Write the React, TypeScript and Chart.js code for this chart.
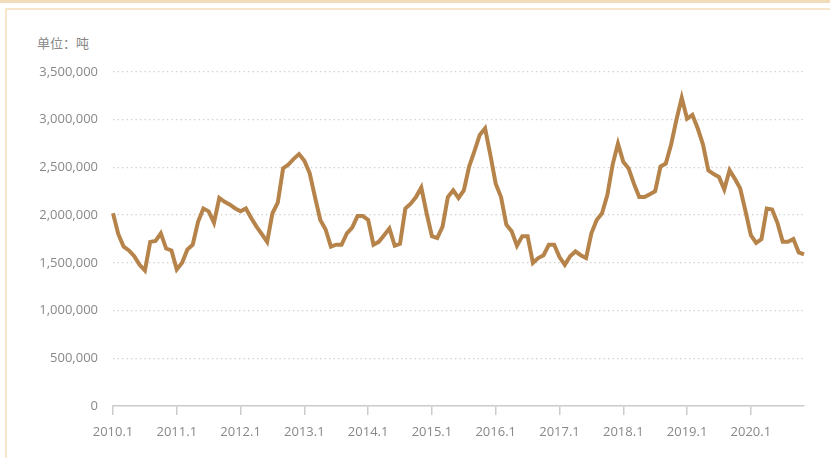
import React, { useEffect, useRef } from "react";
import { Chart, registerables } from "chart.js";

Chart.register(...registerables);

// Monthly volume, tons (2010.1 – 2020.11)
const v2010 = [2020000, 1800000, 1670000, 1630000, 1570000, 1480000, 1420000, 1720000, 1730000, 1810000, 1650000, 1630000];
const v2011 = [1430000, 1500000, 1640000, 1690000, 1930000, 2070000, 2040000, 1920000, 2180000, 2140000, 2110000, 2070000];
const v2012 = [2040000, 2070000, 1970000, 1880000, 1800000, 1720000, 2020000, 2130000, 2490000, 2530000, 2590000, 2640000];
const v2013 = [2570000, 2440000, 2190000, 1950000, 1850000, 1670000, 1690000, 1690000, 1810000, 1870000, 1990000, 1990000];
const v2014 = [1950000, 1690000, 1720000, 1790000, 1860000, 1680000, 1700000, 2070000, 2120000, 2190000, 2290000, 2020000];
const v2015 = [1780000, 1760000, 1880000, 2190000, 2260000, 2180000, 2260000, 2510000, 2670000, 2840000, 2910000, 2630000];
const v2016 = [2330000, 2190000, 1900000, 1830000, 1680000, 1780000, 1780000, 1500000, 1550000, 1580000, 1690000, 1690000];
const v2017 = [1560000, 1480000, 1570000, 1620000, 1580000, 1550000, 1810000, 1950000, 2020000, 2210000, 2530000, 2750000];
const v2018 = [2560000, 2490000, 2330000, 2190000, 2190000, 2220000, 2250000, 2510000, 2540000, 2740000, 3000000, 3230000];
const v2019 = [3010000, 3050000, 2910000, 2740000, 2470000, 2430000, 2400000, 2270000, 2470000, 2380000, 2280000, 2040000];
const v2020 = [1790000, 1710000, 1750000, 2070000, 2060000, 1920000, 1720000, 1720000, 1750000, 1610000, 1590000];

const years = [2010, 2011, 2012, 2013, 2014, 2015, 2016, 2017, 2018, 2019, 2020];
const yearValues = [v2010, v2011, v2012, v2013, v2014, v2015, v2016, v2017, v2018, v2019, v2020];

const yMax = 3500000;
const yStep = 500000;
const unitLabel = "单位：吨";

export default function App() {
  const ref = useRef<HTMLCanvasElement | null>(null);

  useEffect(() => {
    document.body.style.margin = "0";
    const labels: string[] = [];
    const values: number[] = [];
    years.forEach((y, yi) => {
      yearValues[yi].forEach((v, mi) => {
        labels.push(`${y}.${mi + 1}`);
        values.push(v);
      });
    });
    const font = { family: "'Open Sans', sans-serif", size: 13 };
    const chart = new Chart(ref.current!, {
      type: "line",
      data: {
        labels,
        datasets: [
          {
            data: values,
            borderColor: "#b6844a",
            borderWidth: 4,
            pointRadius: 0,
            tension: 0,
            fill: false,
          },
        ],
      },
      options: {
        responsive: false,
        animation: false,
        layout: { padding: { top: 72, right: 26, bottom: 0, left: 0 } },
        plugins: { legend: { display: false }, tooltip: { enabled: false } },
        scales: {
          x: {
            type: "category",
            offset: false,
            grid: {
              drawOnChartArea: false,
              drawTicks: true,
              tickLength: 9,
              color: "#cccccc",
              lineWidth: 1.5,
            },
            border: { display: true, color: "#cccccc", width: 1.5 },
            ticks: {
              autoSkip: false,
              maxRotation: 0,
              padding: 9,
              color: "#888888",
              font,
              callback: (_v: any, idx: number) => (idx % 12 === 0 ? labels[idx] : null),
            },
            afterFit: (scale: any) => {
              scale.height = 52;
            },
          },
          y: {
            min: 0,
            max: yMax,
            grid: {
              drawTicks: false,
              color: (ctx: any) => (ctx.tick && ctx.tick.value === 0 ? "rgba(0,0,0,0)" : "#cccccc"),
              lineWidth: 1.3,
            },
            border: { display: false, dash: [1.3, 3.2] },
            ticks: {
              stepSize: yStep,
              padding: 15,
              color: "#888888",
              font,
              callback: (v: any) => Number(v).toLocaleString("en-US"),
            },
            afterFit: (scale: any) => {
              scale.width = 113;
            },
          },
        },
      } as any,
    });
    return () => chart.destroy();
  }, []);

  return (
    <div style={{ position: "relative", width: 830, height: 458, overflow: "hidden", background: "#fff" }}>
      <div style={{ position: "absolute", left: 0, top: 0, width: 830, height: 3, background: "#f0dcba" }} />
      <div
        style={{
          position: "absolute",
          left: 5,
          top: 8,
          width: 900,
          height: 500,
          border: "2px solid #f7e5cc",
          boxSizing: "border-box",
        }}
      />
      <div
        style={{
          position: "absolute",
          left: 37,
          top: 34,
          fontFamily: "'Noto Sans CJK SC', sans-serif",
          fontSize: 13,
          lineHeight: "18px",
          color: "#888888",
        }}
      >
        {unitLabel}
      </div>
      <canvas ref={ref} width={830} height={458} style={{ position: "absolute", left: 0, top: 0 }} />
    </div>
  );
}
